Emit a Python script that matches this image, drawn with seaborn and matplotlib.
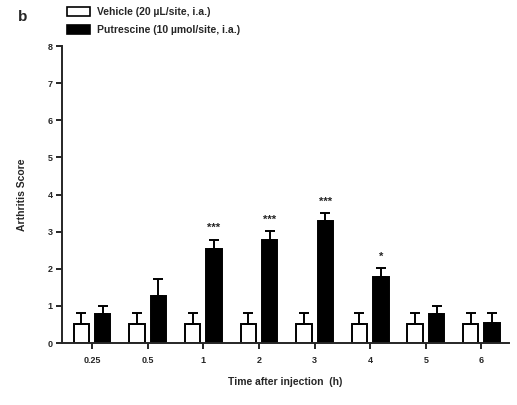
import numpy as np
import pandas as pd
import matplotlib
matplotlib.use("Agg")
import matplotlib.pyplot as plt
import seaborn as sns
from matplotlib.patches import Patch

times = ["0.25", "0.5", "1", "2", "3", "4", "5", "6"]
vehicle_mean = [0.51, 0.51, 0.51, 0.51, 0.51, 0.51, 0.51, 0.51]
vehicle_sem = [0.29, 0.29, 0.29, 0.29, 0.29, 0.29, 0.29, 0.29]
putrescine_mean = [0.78, 1.28, 2.53, 2.78, 3.29, 1.78, 0.78, 0.54]
putrescine_sem = [0.23, 0.45, 0.26, 0.23, 0.22, 0.23, 0.23, 0.26]
putrescine_sig = ["", "", "***", "***", "***", "*", "", ""]
groups = ["Vehicle (20 \u00b5L/site, i.a.)", "Putrescine (10 \u00b5mol/site, i.a.)"]
y_ticks = [0, 1, 2, 3, 4, 5, 6, 7, 8]

sns.set_style("ticks")
plt.rcParams["font.family"] = ["Liberation Sans", "DejaVu Sans"]
plt.rcParams["font.weight"] = "bold"

df = pd.DataFrame({
    "time": times * 2,
    "score": vehicle_mean + putrescine_mean,
    "group": [groups[0]] * len(times) + [groups[1]] * len(times),
})

fig = plt.figure(figsize=(5.17, 4.05), dpi=100)
ax = fig.add_axes([0.12, 0.153, 0.865, 0.733])

sns.barplot(data=df, x="time", y="score", hue="group", order=times, hue_order=groups,
            palette=["white", "black"], edgecolor="black", linewidth=1.4,
            width=0.77, gap=0.28, errorbar=None, legend=False, ax=ax)

means = vehicle_mean + putrescine_mean
sems = vehicle_sem + putrescine_sem
sigs = [""] * len(times) + putrescine_sig
bars = [p for p in ax.patches if p.get_height() > 0]
bars = sorted(bars, key=lambda p: p.get_x())
for i, t in enumerate(times):
    for g in range(2):
        p = bars[2 * i + g]
        idx = g * len(times) + i
        xc = p.get_x() + p.get_width() / 2
        ax.errorbar(xc, means[idx], yerr=[[0], [sems[idx]]], fmt="none",
                    ecolor="black", elinewidth=1.4, capsize=3.5, capthick=1.4, zorder=3)
        if sigs[idx]:
            ax.text(xc, means[idx] + sems[idx] + 0.17, sigs[idx], ha="center", va="bottom",
                    fontsize=8, fontweight="bold")

ax.set_xlim(-0.54, 7.5)
ax.set_ylim(0, 8)
ax.set_yticks(y_ticks)
ax.set_yticklabels([str(v) for v in y_ticks])
ax.tick_params(axis="both", labelsize=6.5, width=1.4, length=4, direction="out", pad=2.5)
for lab in ax.get_xticklabels() + ax.get_yticklabels():
    lab.set_fontweight("bold")
ax.tick_params(axis="x", pad=5)
for s in ["left", "bottom"]:
    ax.spines[s].set_linewidth(1.4)
sns.despine(ax=ax)

ax.set_xlabel("Time after injection  (h)", fontsize=7.5, fontweight="bold", labelpad=9)
ax.set_ylabel("Arthritis Score", fontsize=7.5, fontweight="bold", labelpad=15)

handles = [Patch(facecolor="white", edgecolor="black", linewidth=1.2, label=groups[0]),
           Patch(facecolor="black", edgecolor="black", linewidth=1.2, label=groups[1])]
fig.legend(handles=handles, loc="upper left", bbox_to_anchor=(0.112, 1.005), frameon=False,
           prop={"size": 7.5, "weight": "bold"}, handlelength=2.2, handleheight=0.9,
           labelspacing=0.75, handletextpad=0.7)

fig.text(0.035, 0.975, "b", fontsize=11, fontweight="bold", va="top")

fig.savefig("out.png", dpi=100)
